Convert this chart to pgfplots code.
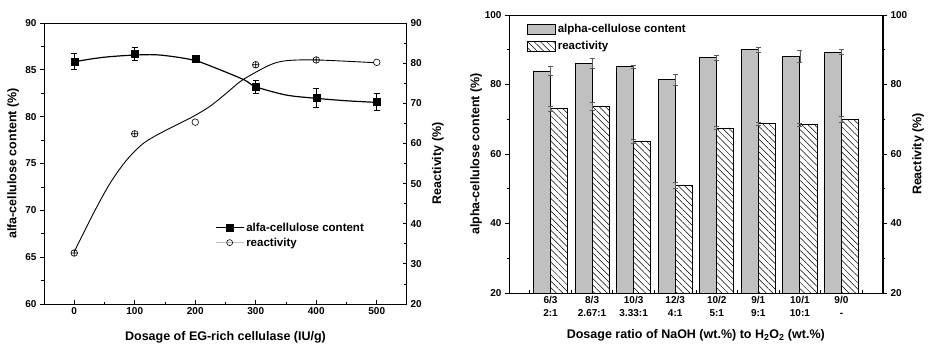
\documentclass[border=0pt]{standalone}
\usepackage{fontspec}
\setmainfont{Liberation Sans}
\usepackage{pgfplots}
\pgfplotsset{compat=1.18}
\usetikzlibrary{patterns,patterns.meta}
\definecolor{bargray}{RGB}{192,192,192}
\definecolor{errgray}{RGB}{90,90,90}
\pgfplotsset{
  common/.style={
    scale only axis, anchor=south west,
    font=\bfseries\fontsize{12.5bp}{14bp}\selectfont,
    tick label style={font=\bfseries\fontsize{10bp}{12bp}\selectfont},
    /pgf/number format/assume math mode=true,
    axis line style={line width=1pt},
    every tick/.style={black, line width=0.8pt},
    major tick length=4bp, minor tick length=2.5bp,
  },
  mylineleg/.style={legend image code/.code={\draw[mark repeat=2,mark phase=2,##1] plot coordinates {(0bp,0bp) (14bp,0bp) (28bp,0bp)};}},
  myboxleg/.style={legend image code/.code={\draw[##1] (0bp,-5bp) rectangle (28bp,5bp);}},
}
\begin{document}
\begin{tikzpicture}
\useasboundingbox (0,0) rectangle (930bp,354bp);
% ---------------- Left chart ----------------
\begin{axis}[common, at={(44bp,50bp)}, width=363bp, height=281bp,
  xmin=-50, xmax=550, ymin=60, ymax=90,
  xtick={0,100,200,300,400,500}, minor x tick num=1,
  ytick={60,65,70,75,80,85,90}, minor y tick num=1,
  xtick pos=bottom, ytick pos=left, xtick align=inside, ytick align=outside,
  xlabel={Dosage of EG-rich cellulase (IU/g)},
  ylabel={alfa-cellulose content (\%)},
  every axis x label/.style={at={(axis description cs:0.5,-0.117)}, anchor=center},
  every axis y label/.style={at={(axis description cs:-0.085,0.5)}, rotate=90, anchor=center},
]
\addplot[black, line width=1.2pt, smooth, forget plot] coordinates {
 (0,85.87) (48.3,86.34) (100.4,86.58) (141.6,86.58) (196.4,86.05) (234.9,85.16)
 (281.5,83.91) (299.6,83.2) (350.2,82.31) (399.6,81.96) (449,81.7) (498.4,81.53)};
\addplot[only marks, mark=square*, mark size=3.5bp, black, forget plot,
  error bars/.cd, y dir=both, y explicit,
  error bar style={line width=1pt, black},
  error mark options={rotate=90, mark size=3bp, line width=1pt, black}] coordinates {
 (0,85.9) +- (0,0.85) (100,86.7) +- (0,0.7) (200,86.2) +- (0,0.2)
 (300,83.2) +- (0,0.7) (400,82.0) +- (0,1.0) (500,81.6) +- (0,0.9)};
\end{axis}
\begin{axis}[common, at={(44bp,50bp)}, width=363bp, height=281bp,
  xmin=-50, xmax=550, ymin=20, ymax=90,
  axis x line=none, axis y line*=right,
  ytick={20,30,...,90}, minor y tick num=1, ytick align=inside,
  ylabel={Reactivity (\%)},
  every axis y label/.style={at={(axis description cs:1.085,0.5)}, rotate=90, anchor=center},
  mylineleg,
  legend style={draw=none, fill=none, at={(axis description cs:0.468,0.300)}, anchor=north west,
    row sep=1bp, inner sep=1bp, font=\bfseries\fontsize{11.5bp}{13bp}\selectfont},
  legend cell align=left,
]
\addlegendimage{black, line width=1.2pt, mark=square*, mark size=3.5bp}
\addlegendentry{alfa-cellulose content}
\addlegendimage{gray!50, line width=0.8pt, mark=o, mark size=3bp, mark options={black, line width=0.6pt}}
\addlegendentry{reactivity}
\addplot[black, line width=0.9pt, smooth, forget plot] coordinates {
 (0,33.0) (31.8,42.6) (59.3,50.1) (86.8,55.9) (114.1,60.0) (141.6,62.5) (169.1,64.6)
 (196.4,66.7) (223.9,69.2) (251.4,72.5) (278,75.8) (322.7,79.5) (350.2,80.6) (399.6,80.8) (498.4,80.1)};
\addplot[only marks, mark=oplus, mark size=3.3bp, black, line width=0.6pt, forget plot] coordinates {
 (0,32.7) (100,62.4) (300,79.6) (400,80.8)};
\addplot[only marks, mark=*, mark size=3.3bp, black, fill=white, line width=0.6pt, forget plot] coordinates {
 (200,65.3) (500,80.2)};
\end{axis}
% ---------------- Right chart ----------------
\begin{axis}[common, at={(509bp,61bp)}, width=374bp, height=278bp,
  xmin=-1, xmax=8, ymin=20, ymax=100,
  xtick={0,1,2,3,4,5,6,7},
  xticklabels={{6/3\\2:1},{8/3\\2.67:1},{10/3\\3.33:1},{12/3\\4:1},{10/2\\5:1},{9/1\\9:1},{10/1\\10:1},{9/0\\-}},
  xticklabel style={align=center, font=\bfseries\fontsize{10bp}{13bp}\selectfont},
  major x tick style={draw=none},
  minor xtick={-0.5,0.5,1.5,2.5,3.5,4.5,5.5,6.5,7.5},
  ytick={20,40,60,80,100}, minor y tick num=1,
  xtick pos=bottom, ytick pos=left, xtick align=inside, ytick align=outside,
  xlabel={Dosage ratio of NaOH (wt.\%) to H\textsubscript{2}O\textsubscript{2} (wt.\%)},
  ylabel={alpha-cellulose content (\%)},
  every axis x label/.style={at={(axis description cs:0.4995,-0.151)}, anchor=center},
  every axis y label/.style={at={(axis description cs:-0.088,0.5)}, rotate=90, anchor=center},
]
\addplot[ybar, bar width=0.41, bar shift=-0.205, fill=bargray, draw=black, line width=0.8pt, forget plot,
  error bars/.cd, y dir=both, y explicit,
  error bar style={errgray, line width=0.6pt},
  error mark options={rotate=90, errgray, mark size=2.5bp, line width=0.6pt}] coordinates {
 (0,83.9) +- (0,1.2) (1,86.0) +- (0,1.4) (2,85.1) +- (0,0.5) (3,81.4) +- (0,1.6)
 (4,87.7) +- (0,0.7) (5,90.0) +- (0,0.7) (6,88.2) +- (0,1.7) (7,89.3) +- (0,0.7)};
\end{axis}
\begin{axis}[common, at={(509bp,61bp)}, width=374bp, height=278bp,
  xmin=-1, xmax=8, ymin=20, ymax=100,
  axis x line=none, axis y line*=right,
  ytick={20,40,60,80,100}, minor y tick num=1, ytick align=outside,
  ylabel={Reactivity (\%)},
  every axis y label/.style={at={(axis description cs:1.094,0.5)}, rotate=90, anchor=center},
  myboxleg,
  legend style={draw=none, fill=none, at={(axis description cs:0.045,0.978)}, anchor=north west,
    row sep=3bp, inner sep=1bp, font=\bfseries\fontsize{11.5bp}{13bp}\selectfont},
  legend cell align=left,
]
\addlegendimage{fill=bargray, draw=black, line width=0.8pt}
\addlegendentry{alpha-cellulose content}
\addlegendimage{pattern={Lines[angle=-45,distance=4.5bp,line width=0.5bp]}, draw=black, line width=0.8pt}
\addlegendentry{reactivity}
\addplot[ybar, bar width=0.41, bar shift=0.205, pattern={Lines[angle=-45,distance=4.5bp,line width=0.5bp]}, draw=black, line width=0.8pt, forget plot,
  error bars/.cd, y dir=both, y explicit,
  error bar style={errgray, line width=0.6pt},
  error mark options={rotate=90, errgray, mark size=2.5bp, line width=0.6pt}] coordinates {
 (0,73.0) +- (0,0.7) (1,73.7) +- (0,1.2) (2,63.6) +- (0,0.6) (3,51.1) +- (0,0.9)
 (4,67.5) +- (0,0.4) (5,68.8) +- (0,0.4) (6,68.4) +- (0,0.5) (7,70.0) +- (0,0.8)};
\end{axis}
\end{tikzpicture}
\end{document}
